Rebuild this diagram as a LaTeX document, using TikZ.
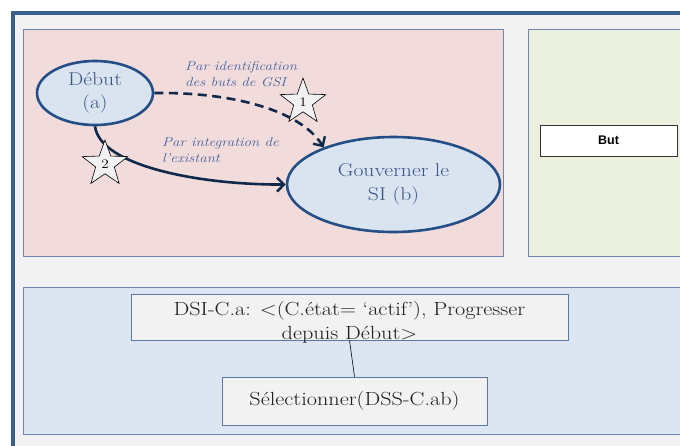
\documentclass[tikz,border=0pt]{standalone}
\usepackage{fontspec}
\setmainfont{Latin Modern Roman}[FakeStretch=1.17]
\newfontfamily\arialfont{Liberation Sans}
\usetikzlibrary{shapes.geometric,arrows.meta}
\definecolor{framecol}{HTML}{3A5F8F}
\definecolor{graybg}{HTML}{F2F2F2}
\definecolor{pinkbg}{HTML}{F2DCDB}
\definecolor{greenbg}{HTML}{EBF1DE}
\definecolor{bluebg}{HTML}{DCE6F2}
\definecolor{panelline}{HTML}{6F86AE}
\definecolor{ellfill}{HTML}{DAE4F1}
\definecolor{ellline}{HTML}{244F86}
\definecolor{elltext}{HTML}{3A5686}
\definecolor{arrowcol}{HTML}{10294A}
\definecolor{labelcol}{HTML}{4262A0}
\definecolor{boxline}{HTML}{5A78A6}
\definecolor{darktext}{HTML}{1E1E1E}
\tikzset{
  panel/.style={draw=panelline, line width=0.8pt},
  ellnode/.style={ellipse, draw=ellline, fill=ellfill, line width=2.6pt, text=elltext, align=center, inner sep=0pt,
    font=\fontsize{18.5}{23.5}\selectfont},
  label/.style={text=labelcol, align=left, inner sep=0pt, font=\fontsize{12.8}{16}\selectfont\itshape},
  numstar/.style={star, star points=5, star point ratio=2.45, minimum size=48pt, inner sep=0pt, draw=black,
    fill=graybg, line width=0.6pt, font=\fontsize{13}{13}\selectfont},
  conn/.style={draw=arrowcol, line width=2.6pt, -{Straight Barb[length=7pt,width=14pt,line width=2.4pt]}},
  textbox/.style={draw=boxline, fill=graybg, line width=0.8pt, inner sep=0pt},
  boxtext/.style={text=darktext, align=center, inner sep=0pt, font=\fontsize{19}{24}\selectfont},
}
\begin{document}
\begin{tikzpicture}[x=1pt,y=-1pt]
\useasboundingbox (0,0) rectangle (680,445);
\clip (0,0) rectangle (680,445);
% outer frame
\fill[graybg] (13,13) rectangle (690,450);
\draw[framecol, line width=3.2pt] (690,13) -- (13,13) -- (13,450);
% panels
\fill[pinkbg] (23.5,29.5) rectangle (503,256.5);
\draw[panel] (23.5,29.5) rectangle (503,256.5);
\fill[greenbg] (528,29.5) rectangle (700,256.5);
\draw[panel] (528,29.5) rectangle (700,256.5);
\fill[bluebg] (23.5,287) rectangle (700,434);
\draw[panel] (23.5,287) rectangle (700,434);
% ellipses
\node[ellnode, minimum width=116pt, minimum height=64pt] (deb) at (95,93) {Début\\(a)};
\node[ellnode, minimum width=213pt, minimum height=95pt] (gov) at (393.5,184.5) {Gouverner le\\SI (b)};
% connectors
\draw[conn, dash pattern=on 9pt off 5.5pt] (deb.east) .. controls (232,92) and (300,110) .. (gov.152);
\draw[conn] (deb.south) .. controls (100,166) and (200,185) .. (gov.west);
% labels
\node[label, anchor=north west] (l1) at (185,61.5) {Par identification\\des buts de GSI};
\node[label, anchor=north west] (l2) at (162,137.5) {Par integration de\\l’existant};
% stars
\node[numstar] (s1) at (303,102) {1};
\node[numstar] (s2) at (105,164) {2};
% But box
\node[draw=black!80, fill=white, line width=0.8pt, minimum width=137pt, minimum height=31pt, inner sep=0pt,
  font=\arialfont\bfseries\fontsize{12.5}{14}\selectfont] (but) at (608.5,140.5) {But};
% bottom boxes
\node[textbox, minimum width=437pt, minimum height=46pt] (dsi) at (349.5,317) {};
\node[boxtext] (dsitext) at (349.5,322) {DSI-C.a: <(C.état= ‘actif’), Progresser\\depuis Début>};
\node[textbox, boxtext, draw=boxline, fill=graybg, minimum width=265pt, minimum height=48pt] (sel) at (354.5,401) {Sélectionner(DSS-C.ab)};
\draw[black, line width=0.6pt] (dsi.south) -- (sel.north);
\end{tikzpicture}
\end{document}
